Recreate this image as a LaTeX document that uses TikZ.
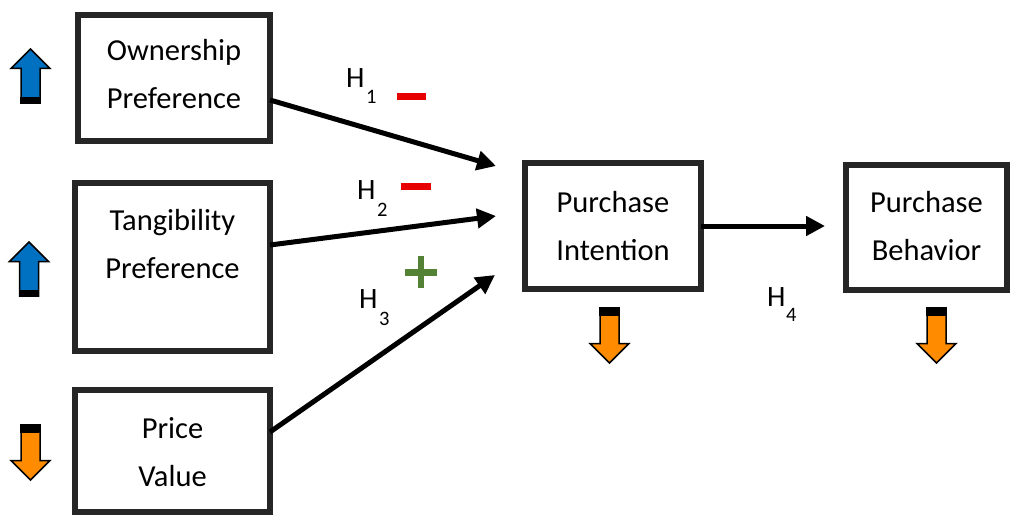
\documentclass[tikz,border=0pt]{standalone}
\usepackage{fontspec}
\setmainfont{Carlito}
\usetikzlibrary{arrows.meta}
\definecolor{boxline}{RGB}{38,38,38}
\definecolor{upblue}{RGB}{0,112,192}
\definecolor{downorange}{RGB}{255,140,0}
\definecolor{minusred}{RGB}{230,0,0}
\definecolor{plusgreen}{RGB}{84,130,53}
\tikzset{
  box/.style={draw=boxline, line width=5.5pt, inner sep=0pt, outer sep=0pt},
  boxtext/.style={align=center, inner sep=0pt, font=\fontsize{30.5}{48}\selectfont},
  hlab/.style={anchor=base west, inner sep=0pt, font=\fontsize{29.5}{32}\selectfont},
  hsub/.style={anchor=base west, inner sep=0pt, font=\fontsize{20.5}{22}\selectfont},
  conn/.style={line width=5pt, -{Triangle[length=19pt,width=19pt]}},
  upmark/.pic={
    \fill[upblue, draw=black, line width=1.5pt, line join=miter]
      (0,0) -- (19.5,19.5) -- (9.5,19.5) -- (9.5,54) -- (-9.5,54) -- (-9.5,19.5) -- (-19.5,19.5) -- cycle;
    \fill[black] (-10.2,48) rectangle (10.2,54.7);
  },
  downmark/.pic={
    \fill[downorange, draw=black, line width=1.5pt, line join=miter]
      (0,0) -- (19.5,-19.5) -- (9.5,-19.5) -- (9.5,-55) -- (-9.5,-55) -- (-9.5,-19.5) -- (-19.5,-19.5) -- cycle;
    \fill[black] (-10.2,-55.7) rectangle (10.2,-47);
  }
}
\begin{document}
\begin{tikzpicture}[x=1pt, y=-1pt]
\useasboundingbox (0,0) rectangle (1015,516);

% boxes
\node[box, minimum width=192pt, minimum height=126pt] (own) at (174,78) {};
\node[box, minimum width=195pt, minimum height=168pt] (tan) at (172.5,267) {};
\node[box, minimum width=195pt, minimum height=122pt] (pri) at (172.5,451) {};
\node[box, minimum width=176pt, minimum height=126pt] (pi) at (613,226) {};
\node[box, minimum width=161pt, minimum height=125pt] (pb) at (926.5,227.5) {};

% box texts
\node[boxtext] (ownt) at (174,75.4) {\strut Ownership\\\strut Preference};
\node[boxtext] (tant) at (172.5,244.4) {\strut Tangibility\\\strut Preference};
\node[boxtext] (prit) at (172.5,452.4) {\strut Price\\\strut Value};
\node[boxtext] (pit) at (613,226.4) {\strut Purchase\\\strut Intention};
\node[boxtext] (pbt) at (926.5,226.4) {\strut Purchase\\\strut Behavior};

% connectors
\draw[conn] ([yshift=-22pt]own.east) -- ([xshift=-29pt,yshift=60pt]pi.west);
\draw[conn] ([yshift=22pt]tan.east) -- ([xshift=-29pt,yshift=10pt]pi.west);
\draw[conn] ([yshift=19pt]pri.east) -- ([xshift=-30pt,yshift=-49pt]pi.west);
\draw[conn] (pi.east) -- ([xshift=-21pt]pi.east -| pb.west);

% hypothesis labels
\node[hlab] (h1) at (346,88) {H};
\node[hsub] (h1s) at (366,104) {1};
\node[hlab] (h2) at (357,199) {H};
\node[hsub] (h2s) at (377,216) {2};
\node[hlab] (h3) at (359,308) {H};
\node[hsub] (h3s) at (379,325) {3};
\node[hlab] (h4) at (767,306) {H};
\node[hsub] (h4s) at (786,321) {4};

% signs
\fill[minusred] (397,93.5) rectangle (426,100.5);
\fill[minusred] (401,183) rectangle (431,190);
\fill[plusgreen] (405,269) rectangle (437,275.5);
\fill[plusgreen] (417.8,256) rectangle (424.2,288);

% up / down markers
\pic at (30.5,49) {upmark};
\pic at (29,242) {upmark};
\pic at (30.5,480) {downmark};
\pic at (609.5,363) {downmark};
\pic at (936.5,363) {downmark};
\end{tikzpicture}
\end{document}
